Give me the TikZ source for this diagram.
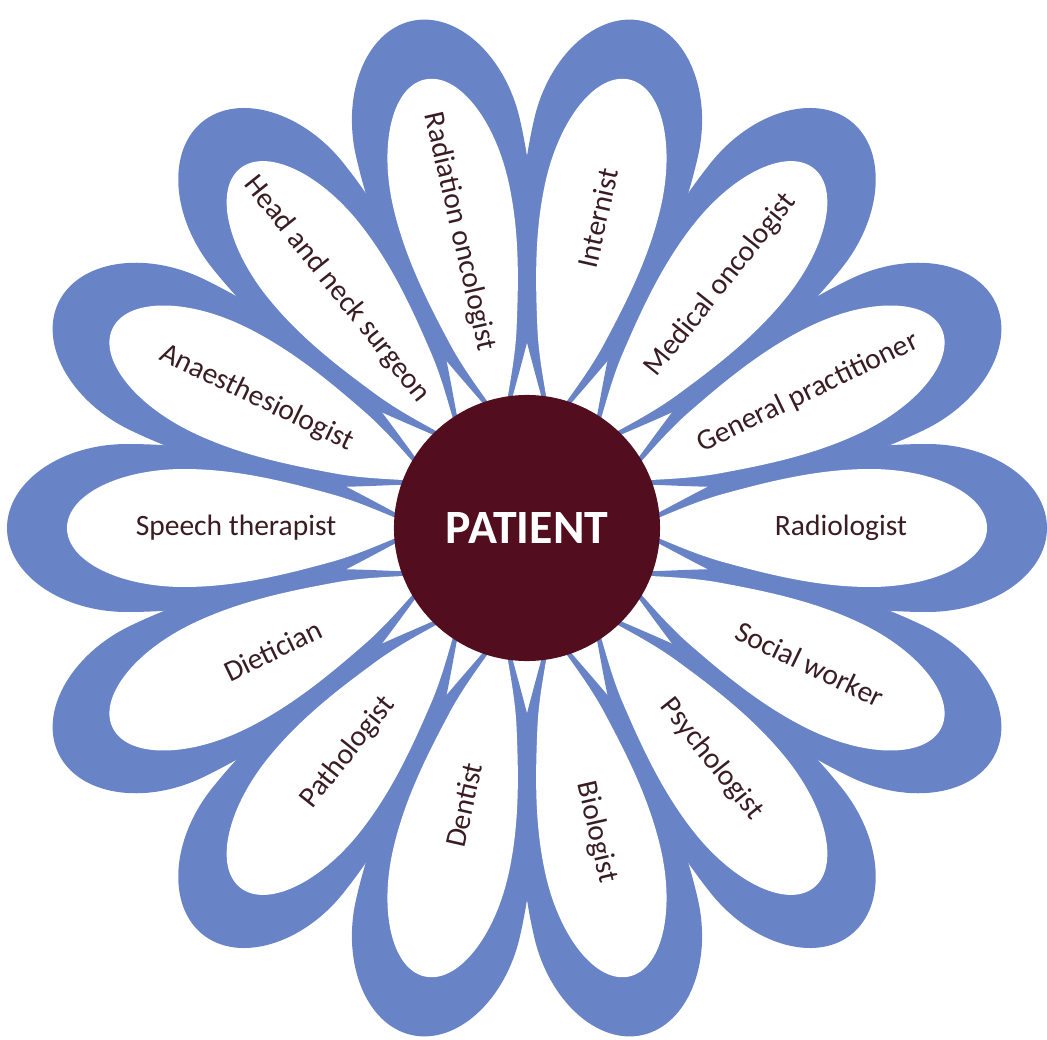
\documentclass[tikz,border=0pt]{standalone}
\usepackage{fontspec}
\setmainfont{Carlito}
\definecolor{petalblue}{RGB}{104,132,199}
\definecolor{heartred}{RGB}{82,13,30}
\definecolor{labelink}{RGB}{58,28,36}
\tikzset{
  % blue outline of one petal (pointing along +x)
  rim/.pic={
    \fill[petalblue] (100,0) .. controls (120,8) and (150,26) .. (196,49)
      .. controls (220,61) and (310,84) .. (400,84)
      .. controls (466,84) and (520,46) .. (520,0)
      .. controls (520,-46) and (466,-84) .. (400,-84)
      .. controls (310,-84) and (220,-61) .. (196,-49)
      .. controls (150,-26) and (120,-8) .. (100,0) -- cycle;
  },
  % white inside of one petal
  core/.pic={
    \fill[white] (105,0) .. controls (125,6) and (160,24) .. (196,34)
      .. controls (240,46) and (290,59) .. (343,59)
      .. controls (408,59) and (460,33) .. (460,0)
      .. controls (460,-33) and (408,-59) .. (343,-59)
      .. controls (290,-59) and (240,-46) .. (196,-34)
      .. controls (160,-24) and (125,-6) .. (105,0) -- cycle;
  },
  role/.style={text=labelink, font=\fontsize{21}{24}\selectfont, inner sep=0pt},
  hub/.style={circle, fill=heartred, minimum size=6.65cm, inner sep=0pt,
    text=white, font=\bfseries\fontsize{34}{40}\selectfont}
}
\begin{document}
\begin{tikzpicture}[x=0.025cm,y=0.025cm]
\useasboundingbox (-527,-512) rectangle (520,528);
% petals: blue outlines first, then the white insides
\foreach \k in {0,...,13} \pic[rotate=\k*360/14] {rim};
\foreach \k in {0,...,13} \pic[rotate=\k*360/14] {core};
% centre
\node[hub] (patient) at (0,0) {PATIENT};
% petal labels
\foreach \k/\txt/\r in {
  0/Radiologist/314,
  1/General practitioner/312,
  2/Medical oncologist/311,
  3/Internist/318,
  4/Radiation oncologist/304,
  5/Head and neck surgeon/305,
  6/Anaesthesiologist/300,
  7/Speech therapist/291,
  8/Dietician/282,
  9/Pathologist/287,
  10/Dentist/284,
  11/Biologist/312,
  12/Psychologist/296,
  13/Social worker/314} {
  \pgfmathsetmacro\a{\k*360/14}
  \pgfmathsetmacro\rot{(\a>90 && \a<270) ? \a-180 : \a}
  \node[role, rotate=\rot] (role\k) at (\a:\r) {\txt};
}
\end{tikzpicture}
\end{document}
